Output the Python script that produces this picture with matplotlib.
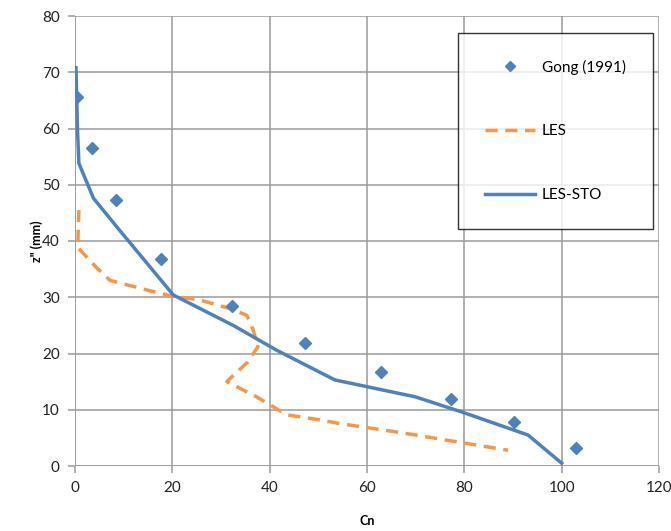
import matplotlib
matplotlib.use("Agg")
import matplotlib.pyplot as plt
from matplotlib.lines import Line2D

plt.rcParams['font.family'] = ['Lato', 'DejaVu Sans']

# Data
gong_cn = [0.4, 3.5, 8.4, 17.7, 32.3, 47.3, 62.9, 77.3, 90.2, 102.9]
gong_z = [65.6, 56.5, 47.3, 36.8, 28.4, 21.9, 16.7, 11.9, 7.8, 3.2]

les_cn = [0.8, 0.6, 0.4, 4.5, 7.2, 13.4, 18.9, 25.7, 31.8, 35.3, 36.6, 37.6,
          35.5, 31.2, 37.3, 43.5, 50.3, 54.0, 67.2, 89.0]
les_z = [45.5, 40.0, 39.0, 35.2, 33.0, 31.6, 30.4, 29.5, 28.0, 26.8, 24.2, 21.2,
         18.5, 15.0, 12.3, 9.1, 8.2, 7.6, 5.9, 2.8]

sto_cn = [0.2, 0.5, 0.8, 3.8, 8.6, 20.2, 32.5, 41.4, 53.4, 69.9, 79.5, 93.1, 100.0]
sto_z = [70.8, 60.0, 53.8, 47.6, 42.5, 30.4, 25.0, 20.6, 15.3, 12.3, 9.6, 5.5, 0.5]

xticks = [0, 20, 40, 60, 80, 100, 120]
yticks = [0, 10, 20, 30, 40, 50, 60, 70, 80]

blue = '#4F81BD'
orange = '#F79646'
grid_c = '#9a9a9a'

fig = plt.figure(figsize=(6.71, 5.31), dpi=100)
ax = fig.add_axes([75/671, 1-466/531, (659-75)/671, (466-16)/531])

ax.plot(les_cn, les_z, color=orange, lw=2.5, dashes=(3.5, 2.2), label='LES', zorder=3)
ax.plot(sto_cn, sto_z, color=blue, lw=2.5, label='LES-STO', zorder=4)
ax.plot(gong_cn, gong_z, linestyle='none', marker='D', ms=6.5, color=blue,
        label='Gong (1991)', zorder=5)

ax.set_xlim(0, 120)
ax.set_ylim(0, 80)
ax.set_xticks(xticks)
ax.set_yticks(yticks)
ax.grid(True, color=grid_c, lw=1.1)
ax.set_axisbelow(True)
for s in ax.spines.values():
    s.set_visible(False)
ax.axhline(0, color=grid_c, lw=1.1, zorder=0.5)
ax.axvline(0, color=grid_c, lw=1.1, zorder=0.5)
ax.tick_params(axis='both', colors=grid_c, length=5, width=1.1, direction='out',
               labelcolor='#222222', labelsize=11, pad=6)

ax.set_xlabel('Cn', fontsize=9, fontweight='bold', labelpad=14)
ax.set_ylabel('z" (mm)', fontsize=9, fontweight='bold', labelpad=-1)

handles = [
    Line2D([], [], linestyle='none', marker='D', ms=5, color=blue),
    Line2D([], [], color=orange, lw=2.5, dashes=(3.5, 2.2)),
    Line2D([], [], color=blue, lw=2.5),
]
labels = ['Gong (1991)', 'LES', 'LES-STO']
leg = ax.legend(handles, labels, loc='upper left',
                bbox_to_anchor=((458-75)/584, (466-33)/450),
                fontsize=11, frameon=True, fancybox=False, edgecolor='black',
                labelspacing=3.25, handlelength=3.3, handletextpad=0.45,
                borderpad=1.75, borderaxespad=0)
leg.get_frame().set_linewidth(1.0)

fig.savefig('out.png', dpi=100)
